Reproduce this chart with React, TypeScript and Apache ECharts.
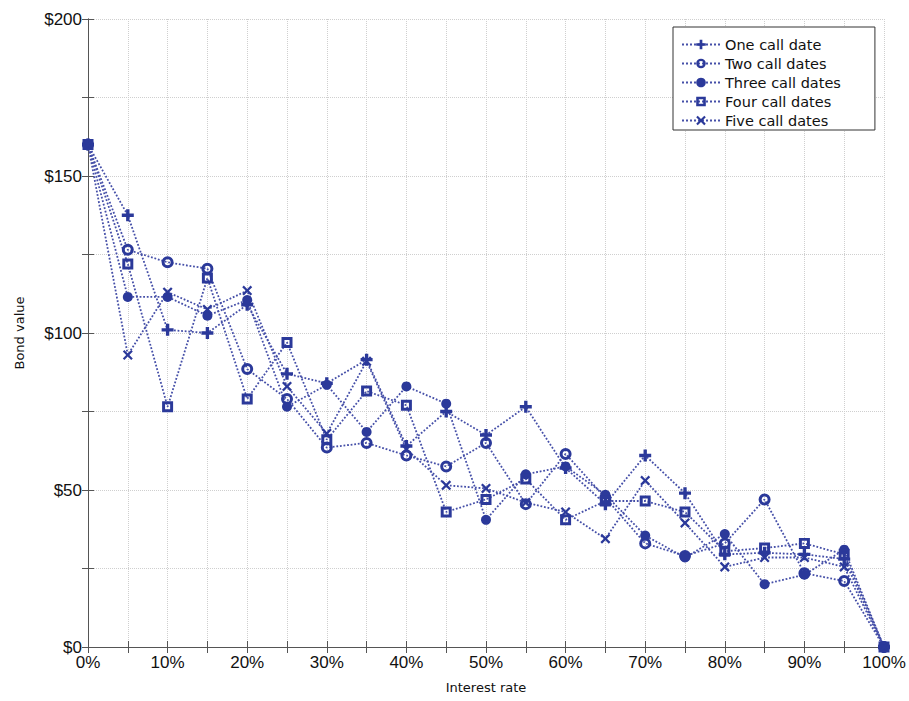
import React, { useEffect, useRef } from "react";
import * as echarts from "echarts";

const xRates = [0, 5, 10, 15, 20, 25, 30, 35, 40, 45, 50, 55, 60, 65, 70, 75, 80, 85, 90, 95, 100];
const oneCall = [160, 137.5, 101, 100, 109, 87, 84, 91.5, 64, 75, 67.5, 76.5, 57, 45.5, 61, 49, 29.5, 30, 29.5, 28, 0];
const twoCalls = [160, 126.5, 122.5, 120.5, 88.5, 79, 63.5, 65, 61, 57.5, 65, 45.5, 61.5, 47.5, 33, 29, 33, 47, 23.5, 21, 0];
const threeCalls = [160, 111.5, 111.5, 105.5, 110.5, 76.5, 83.5, 68.5, 83, 77.5, 40.5, 55, 57.5, 48.5, 35.5, 28.5, 36, 20, 23, 31, 0];
const fourCalls = [160, 122, 76.5, 117.5, 79, 97, 66, 81.5, 77, 43, 47, 53.5, 40.5, 46.5, 46.5, 43, 30.5, 31.5, 33, 29.5, 0];
const fiveCalls = [160, 93, 113, 107.5, 113.5, 83, 68, 91, 63, 51.5, 50.5, 46, 43, 34.5, 53, 39.5, 25.5, 28.5, 28.5, 25.5, 0];
const seriesNames = ["One call date", "Two call dates", "Three call dates", "Four call dates", "Five call dates"];

const PLUS = "path://M3.6 0H6.4V3.6H10V6.4H6.4V10H3.6V6.4H0V3.6H3.6Z";
const CROSS = "path://M1.6 0L5 3.4L8.4 0L10 1.6L6.6 5L10 8.4L8.4 10L5 6.6L1.6 10L0 8.4L3.4 5L0 1.6Z";
const RING = "path://M5 0A5 5 0 1 1 5 10A5 5 0 1 1 5 0ZM5 2.5A2.5 2.5 0 1 0 5 7.5A2.5 2.5 0 1 0 5 2.5Z";
const SQUARE_RING = "path://M0 0H10V10H0ZM2.7 2.7V7.3H7.3V2.7Z";

const BLUE = "#2b399a";
const LINE = "#454fa8";

export default function App() {
  const ref = useRef<HTMLDivElement>(null);
  useEffect(() => {
    if (!ref.current) return;
    const chart = echarts.init(ref.current, undefined, { renderer: "svg" });
    const allData = [oneCall, twoCalls, threeCalls, fourCalls, fiveCalls];
    const symbols = [PLUS, RING, "circle", SQUARE_RING, CROSS];
    const sizes = [12, 12, 10, 11, 10];
    const tickFont = { fontFamily: "Liberation Sans, Arial, sans-serif", fontSize: 17, color: "#111" };
    const gridLine = { show: true, lineStyle: { color: "#cfcfcf", type: "dotted" as const, width: 1 } };
    const axisLine = { show: true, lineStyle: { color: "#555", width: 1 } };
    const tick = { show: true, inside: true, length: 6, lineStyle: { color: "#555" } };
    chart.setOption({
      animation: false,
      backgroundColor: "#fff",
      grid: { left: 88, right: 25, top: 19, bottom: 54 },
      legend: {
        orient: "vertical",
        left: 673,
        top: 27,
        data: seriesNames,
        backgroundColor: "#fff",
        borderColor: "#333",
        borderWidth: 1,
        padding: [10, 34, 2, 8],
        itemWidth: 38,
        itemHeight: 12,
        itemGap: 4,
        textStyle: { fontFamily: "DejaVu Sans, sans-serif", fontSize: 14.5, color: "#111" },
      },
      xAxis: [
        {
          type: "value",
          min: 0,
          max: 100,
          interval: 5,
          name: "Interest rate",
          nameLocation: "middle",
          nameGap: 34,
          nameTextStyle: { fontFamily: "DejaVu Sans, sans-serif", fontSize: 13, color: "#111" },
          axisLine,
          axisTick: tick,
          splitLine: gridLine,
          axisLabel: {
            ...tickFont,
            margin: 7,
            showMinLabel: true,
            showMaxLabel: true,
            formatter: (v: number) => (v % 10 === 0 ? v + "%" : ""),
          },
        },
        {
          type: "value",
          position: "top",
          min: 0,
          max: 100,
          interval: 5,
          axisLine,
          axisTick: tick,
          splitLine: { show: false },
          axisLabel: { show: false },
        },
      ],
      yAxis: [
        {
          type: "value",
          min: 0,
          max: 200,
          interval: 25,
          name: "Bond value",
          nameLocation: "middle",
          nameGap: 62,
          nameTextStyle: { fontFamily: "DejaVu Sans, sans-serif", fontSize: 13, color: "#111" },
          axisLine,
          axisTick: tick,
          splitLine: gridLine,
          axisLabel: {
            ...tickFont,
            margin: 6,
            formatter: (v: number) => (v % 50 === 0 ? "$" + v : ""),
          },
        },
        {
          type: "value",
          position: "right",
          min: 0,
          max: 200,
          interval: 25,
          axisLine,
          axisTick: tick,
          splitLine: { show: false },
          axisLabel: { show: false },
        },
      ],
      series: allData.map((vals, i) => ({
        name: seriesNames[i],
        type: "line",
        data: xRates.map((x, j) => [x, vals[j]]),
        symbol: symbols[i],
        symbolSize: sizes[i],
        showAllSymbol: true,
        lineStyle: { color: LINE, width: 1.8, type: "dotted" },
        itemStyle: { color: BLUE, borderWidth: 0 },
        emphasis: { disabled: true },
      })),
    });
    return () => chart.dispose();
  }, []);
  return <div ref={ref} style={{ width: 909, height: 701, position: "absolute", left: 0, top: 0 }} />;
}
